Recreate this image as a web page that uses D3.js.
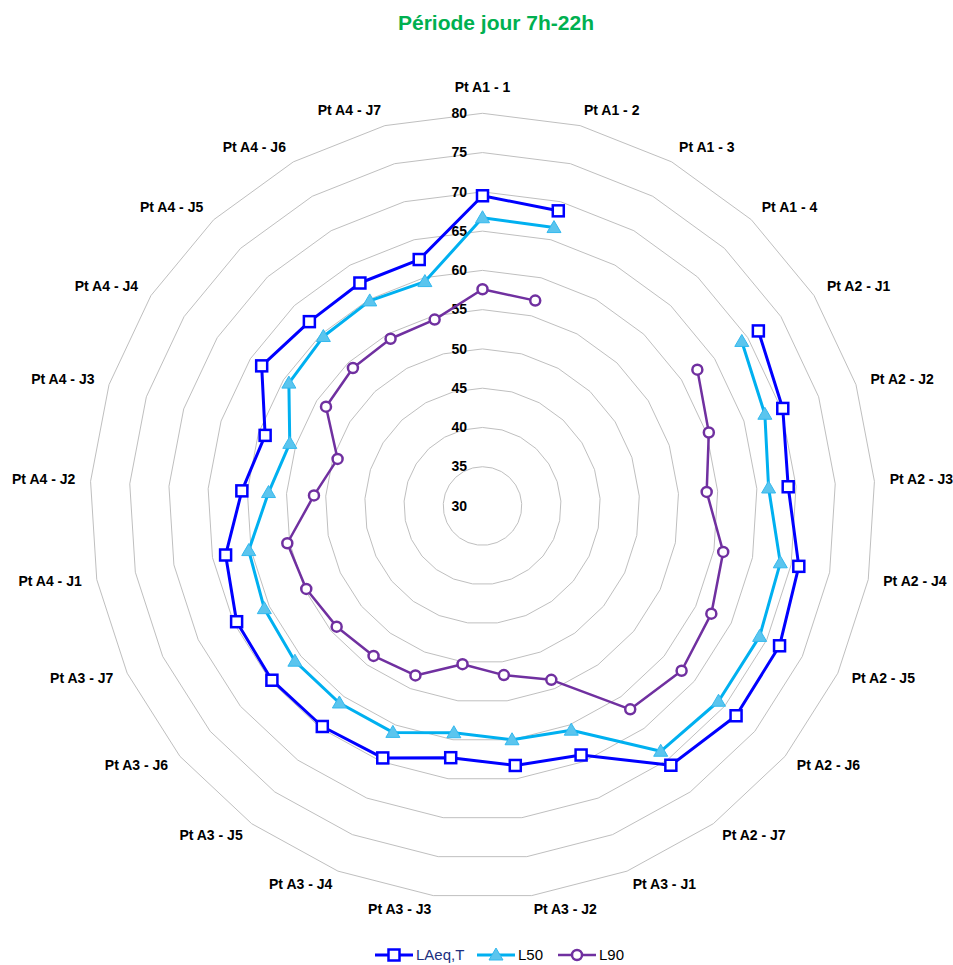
<!DOCTYPE html>
<html>
<head>
<meta charset="utf-8">
<script src="https://cdn.jsdelivr.net/npm/d3@7"></script>
<style>
  html, body { margin: 0; padding: 0; background: #fff; }
  svg { display: block; font-family: "Liberation Sans", Arial, sans-serif; }
</style>
</head>
<body>
<svg id="chart" width="953" height="965"></svg>
<script>
const categories = [
  "Pt A1 - 1", "Pt A1 - 2", "Pt A1 - 3", "Pt A1 - 4",
  "Pt A2 - J1", "Pt A2 - J2", "Pt A2 - J3", "Pt A2 - J4", "Pt A2 - J5", "Pt A2 - J6", "Pt A2 - J7",
  "Pt A3 - J1", "Pt A3 - J2", "Pt A3 - J3", "Pt A3 - J4", "Pt A3 - J5", "Pt A3 - J6", "Pt A3 - J7",
  "Pt A4 - J1", "Pt A4 - J2", "Pt A4 - J3", "Pt A4 - J4", "Pt A4 - J5", "Pt A4 - J6", "Pt A4 - J7"
];
const laeq = [69.5, 68.8, null, null, 71.6, 70.2, 69.0, 71.0, 71.8, 71.9, 70.8,
  64.1, 63.3, 62.3, 64.5, 64.7, 64.8, 64.6, 63.3, 60.7, 59.1, 63.3, 62.2, 62.4, 62.4];
const l50 = [66.7, 66.6, null, null, 69.1, 67.8, 66.5, 68.6, 69.0, 69.0, 68.6,
  60.7, 60.0, 59.1, 61.0, 61.0, 61.0, 60.7, 60.3, 57.3, 55.8, 59.2, 59.6, 59.8, 59.5];
const l90 = [57.6, 57.0, null, null, 62.4, 60.3, 58.6, 61.2, 62.2, 62.9, 62.0,
  53.8, 51.7, 50.3, 53.2, 53.6, 54.1, 54.8, 55.3, 51.5, 49.4, 53.6, 54.1, 54.3, 54.5];
const tickValues = [30, 35, 40, 45, 50, 55, 60, 65, 70, 75, 80];
const seriesNames = ["LAeq,T", "L50", "L90"];
const titleText = "Période jour 7h-22h";

const svg = d3.select("#chart");
const cx = 482.5, cy = 506;
const r = d3.scaleLinear().domain([30, 80]).range([0, 392.7]);
const n = categories.length;
const ang = d3.scaleLinear().domain([0, n]).range([0, 2 * Math.PI]);
const px = (i, v) => cx + r(v) * Math.sin(ang(i));
const py = (i, v) => cy - r(v) * Math.cos(ang(i));

// title
svg.append("text")
  .attr("x", 496).attr("y", 24)
  .attr("text-anchor", "middle").attr("dominant-baseline", "middle")
  .attr("font-size", 21).attr("font-weight", "bold").attr("fill", "#00B050")
  .text(titleText);

// grid rings
const idx = d3.range(n);
const ringLine = d3.line().curve(d3.curveLinearClosed);
const g = svg.append("g");
tickValues.filter(t => t > 30).forEach(t => {
  g.append("path")
    .attr("d", ringLine(idx.map(i => [px(i, t), py(i, t)])))
    .attr("fill", "none").attr("stroke", "#BFBFBF").attr("stroke-width", 1);
});

// tick labels
svg.append("g").selectAll("text").data(tickValues).join("text")
  .attr("x", 467).attr("y", d => cy - r(d) + 1)
  .attr("text-anchor", "end").attr("dominant-baseline", "middle")
  .attr("font-size", 14).attr("font-weight", "bold").attr("fill", "#000")
  .text(d => d);

// category labels
const labR = 408;
svg.append("g").selectAll("text").data(categories).join("text")
  .attr("x", (d, i) => cx + labR * Math.sin(ang(i)))
  .attr("y", (d, i) => i === 0 ? cy - 418 : cy - labR * Math.cos(ang(i)))
  .attr("text-anchor", (d, i) => {
    const s = Math.sin(ang(i));
    return Math.abs(s) < 0.05 ? "middle" : (s > 0 ? "start" : "end");
  })
  .attr("dominant-baseline", "middle")
  .attr("font-size", 14).attr("font-weight", "bold").attr("fill", "#000")
  .text(d => d);

// series
const series = [
  { name: seriesNames[0], values: laeq, color: "#0000FF", width: 3, marker: "square" },
  { name: seriesNames[1], values: l50, color: "#00B0F0", width: 3, marker: "triangle" },
  { name: seriesNames[2], values: l90, color: "#7030A0", width: 2.5, marker: "circle" }
];

const line = d3.line()
  .defined(d => d.v != null)
  .x(d => px(d.i, d.v)).y(d => py(d.i, d.v));

function drawMarker(sel, type, color, x, y) {
  if (type === "square") {
    sel.append("rect").attr("x", x - 5.5).attr("y", y - 5.5).attr("width", 11).attr("height", 11)
      .attr("fill", "#fff").attr("stroke", color).attr("stroke-width", 2.5);
  } else if (type === "triangle") {
    sel.append("path")
      .attr("d", `M${x},${y - 7}L${x + 7},${y + 5}L${x - 7},${y + 5}Z`)
      .attr("fill", "#5BC5EE").attr("stroke", "#33B8EE").attr("stroke-width", 1);
  } else {
    sel.append("circle").attr("cx", x).attr("cy", y).attr("r", 5)
      .attr("fill", "#fff").attr("stroke", color).attr("stroke-width", 2.5);
  }
}

series.forEach(s => {
  const pts = s.values.map((v, i) => ({ i, v }));
  pts.push({ i: 0, v: s.values[0] });
  const sg = svg.append("g");
  sg.append("path").attr("d", line(pts))
    .attr("fill", "none").attr("stroke", s.color).attr("stroke-width", s.width)
    .attr("stroke-linejoin", "round");
  s.values.forEach((v, i) => {
    if (v == null) return;
    drawMarker(sg, s.marker, s.color, px(i, v), py(i, v));
  });
});

// legend
const legendX = [375, 477, 558];
const legendTextColor = ["#203080", "#000", "#000"];
const lg = svg.append("g");
series.forEach((s, k) => {
  const x0 = legendX[k], y0 = 955;
  lg.append("line").attr("x1", x0).attr("x2", x0 + 38).attr("y1", y0).attr("y2", y0)
    .attr("stroke", s.color).attr("stroke-width", s.width);
  drawMarker(lg, s.marker, s.color, x0 + 19, y0);
  lg.append("text").attr("x", x0 + 41).attr("y", y0 + 1)
    .attr("dominant-baseline", "middle").attr("font-size", 15).attr("fill", legendTextColor[k])
    .text(s.name);
});
</script>
</body>
</html>
